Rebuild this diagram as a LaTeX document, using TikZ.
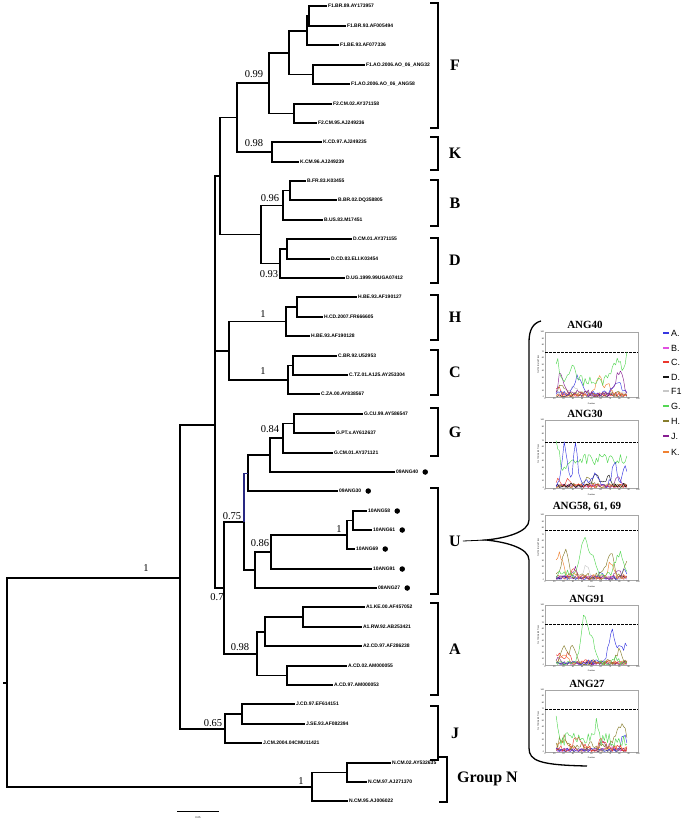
\documentclass[tikz,border=0pt]{standalone}
\usepackage{fontspec}
\setmainfont{Liberation Serif}
\setsansfont{Liberation Sans}
\usetikzlibrary{calc}
\definecolor{cA}{RGB}{55,55,225}
\definecolor{cB}{RGB}{225,80,225}
\definecolor{cC}{RGB}{235,55,45}
\definecolor{cD}{RGB}{20,20,20}
\definecolor{cF}{RGB}{200,200,200}
\definecolor{cG}{RGB}{85,215,85}
\definecolor{cH}{RGB}{135,125,45}
\definecolor{cJ}{RGB}{135,30,145}
\definecolor{cK}{RGB}{240,130,50}
\definecolor{navy}{RGB}{40,40,130}
\newcommand{\bsl}[2]{\draw[#1,line width=0.45pt,line join=round] plot[domain=12:88,samples=45] (\x,{max(0.8,min(99,#2))});}
\newcommand{\bsframe}[1]{%
  \draw[gray!70,line width=0.35pt] (0,0) rectangle (100,100);
  \foreach \v in {0,10,...,100}{
    \node[tick,anchor=east] (ty\v) at (-0.5,\v) {\v};
    \node[tick,anchor=north] (tx\v) at (\v,-1) {\v};}
  \node[tick,anchor=north] (pos) at (50,-8) {Position};
  \node[tick,rotate=90,anchor=south] (ylab) at (-6,50) {\% of Permuted Trees};
  \draw[line width=0.9pt,dash pattern=on 2.5pt off 1.5pt] (0,#1) -- (100,#1);
}
\begin{document}
\begin{tikzpicture}[x=1pt,y=-1pt,
  declare function={gg(\xa,\xm,\xs)=exp(max(-10,0-(((\xa-\xm)/\xs)^2)));},
  tree/.style={draw=black,line width=1.1pt},
  leaf/.style={anchor=west,inner sep=0.8pt,font=\sffamily\bfseries\fontsize{5}{5}\selectfont},
  boot/.style={inner sep=0pt,font=\fontsize{10.5}{11}\selectfont},
  clade/.style={inner sep=0pt,font=\bfseries\fontsize{16}{16}\selectfont},
  brk/.style={draw=black,line width=1.1pt},
  dot/.style={circle,fill=black,inner sep=0pt,minimum size=5.5pt},
  tick/.style={inner sep=0.3pt,font=\sffamily\fontsize{2}{2}\selectfont},
  ptitle/.style={inner sep=0pt,font=\bfseries\fontsize{11}{11}\selectfont},
  legtxt/.style={anchor=west,inner sep=0pt,font=\sffamily\fontsize{9}{9}\selectfont}]
\pgfmathsetseed{4242}
\useasboundingbox (0,0) rectangle (689,823);

% ---------- leaves ----------
\foreach \i/\xx/\yy in {0/327/6,1/346/26,2/339/45,3/365/65,4/350/84,5/332/104,6/317/123,
  7/322/142,8/299/162,9/306/181,10/337/200,11/323/220,12/352/239,13/330/259,14/345/278,
  15/357/297,16/323/317,17/310/336,18/337/356,19/348/375,20/320/394,21/363/414,22/335/433,
  23/333/453,24/395/472,25/338/491,26/367/511,27/372/530,28/355/549,29/372/569,30/377/588,
  31/365/607,32/362/627,33/362/646,34/347/666,35/333/685,36/295/704,37/305/724,38/262/743,
  39/391/763,40/367/782,41/348/801}
  \coordinate (l\i) at (\xx,\yy);

% ---------- internal nodes ----------
\coordinate (nF1a) at (309,16);
\coordinate (nF1b) at (307,31);
\coordinate (nANG) at (313,74.5);
\coordinate (nF1) at (289,53);
\coordinate (nF2) at (294,113.5);
\coordinate (nF) at (269,83);
\coordinate (nK) at (272,152);
\coordinate (nFK) at (237,117.5);
\coordinate (nB1) at (290,190.5);
\coordinate (nB) at (283,205.5);
\coordinate (nD1) at (287,249);
\coordinate (nD) at (280,263.5);
\coordinate (nBD) at (261,234.5);
\coordinate (nFKBD) at (220,176);
\coordinate (nH1) at (297,307);
\coordinate (nH) at (286,321.5);
\coordinate (nC1) at (293,365.5);
\coordinate (nC) at (288,380);
\coordinate (nHC) at (229,351);
\coordinate (nG1) at (294,423.5);
\coordinate (nG) at (283,438);
\coordinate (nG40) at (270,455);
\coordinate (nG30) at (248,473.5);
\coordinate (nANGa) at (353,520.5);
\coordinate (nANGb) at (347,535);
\coordinate (nANGc) at (271,552);
\coordinate (nU) at (255,570);
\coordinate (nGU) at (244,522);
\coordinate (nA1) at (303,617);
\coordinate (nA12) at (265,632);
\coordinate (nA0) at (287,675.5);
\coordinate (nA) at (257,654);
\coordinate (nGUA) at (224,588);
\coordinate (nTop) at (215,425);
\coordinate (nJ1) at (242,714);
\coordinate (nJ) at (225,729);
\coordinate (nM) at (180,578);
\coordinate (nN1) at (347,772.5);
\coordinate (nN) at (312,787);
\coordinate (root) at (7,683);
\coordinate (rootstem) at (3,683);

\foreach \p/\c in {nF1a/l0,nF1a/l1,nF1b/nF1a,nF1b/l2,nANG/l3,nANG/l4,nF1/nF1b,nF1/nANG,
  nF2/l5,nF2/l6,nF/nF1,nF/nF2,nK/l7,nK/l8,nFK/nF,nFK/nK,nB1/l9,nB1/l10,nB/nB1,nB/l11,
  nD1/l12,nD1/l13,nD/nD1,nD/l14,nBD/nB,nBD/nD,nFKBD/nFK,nFKBD/nBD,nH1/l15,nH1/l16,
  nH/nH1,nH/l17,nC1/l18,nC1/l19,nC/nC1,nC/l20,nHC/nH,nHC/nC,nG1/l21,nG1/l22,nG/nG1,
  nG/l23,nG40/nG,nG40/l24,nG30/nG40,nG30/l25,nANGa/l26,nANGa/l27,nANGb/nANGa,nANGb/l28,
  nANGc/nANGb,nANGc/l29,nU/nANGc,nU/l30,nGU/nU,nA1/l31,nA1/l32,nA12/nA1,nA12/l33,
  nA0/l34,nA0/l35,nA/nA12,nA/nA0,nGUA/nGU,nGUA/nA,nTop/nFKBD,nTop/nHC,nTop/nGUA,
  nJ1/l36,nJ1/l37,nJ/nJ1,nJ/l38,nM/nTop,nM/nJ,nN1/l39,nN1/l40,nN/nN1,nN/l41,root/nM,root/nN}
  \draw[tree] (\p) |- (\c);
\draw[tree,draw=navy] (nGU) |- (nG30);
\draw[tree] (rootstem) -- (root);

% ---------- leaf labels ----------
\foreach \i/\t in {0/F1.BR.89.AY173957,1/F1.BR.93.AF005494,2/F1.BE.93.AF077336,
  3/F1.AO.2006.AO\_06\_ANG32,4/F1.AO.2006.AO\_06\_ANG58,5/F2.CM.02.AY371158,6/F2.CM.95.AJ249236,
  7/K.CD.97.AJ249235,8/K.CM.96.AJ249239,9/B.FR.83.K03455,10/B.BR.02.DQ358805,11/B.US.83.M17451,
  12/D.CM.01.AY371155,13/D.CD.83.ELI.K03454,14/D.UG.1999.99UGA07412,15/H.BE.93.AF190127,
  16/H.CD.2007.FR666605,17/H.BE.93.AF190128,18/C.BR.92.U52953,19/C.TZ.01.A125.AY253304,
  20/C.ZA.00.AY838567,21/G.CU.99.AY586547,22/G.PT.x.AY612637,23/G.CM.01.AY371121,
  24/09ANG40,25/09ANG30,26/10ANG58,27/10ANG61,28/10ANG69,29/10ANG91,30/08ANG27,
  31/A1.KE.00.AF457052,32/A1.RW.92.AB253421,33/A2.CD.97.AF286238,34/A.CD.02.AM000055,
  35/A.CD.97.AM000053,36/J.CD.97.EF614151,37/J.SE.93.AF082394,38/J.CM.2004.04CMU11421,
  39/N.CM.02.AY532635,40/N.CM.97.AJ271370,41/N.CM.95.AJ006022}
  \node[leaf] (t\i) at (l\i) {\t};

\foreach \n in {24,25,...,30}
  \node[dot] (d\n) at ($(t\n.east)+(6,0)$) {};

% ---------- support values ----------
\node[boot] (bF) at (254,74) {0.99};
\node[boot] (bK) at (254,143) {0.98};
\node[boot] (bB) at (270,198) {0.96};
\node[boot] (bD) at (269,274) {0.93};
\node[boot] (bH) at (263,314) {1};
\node[boot] (bC) at (263,371) {1};
\node[boot] (bG) at (270,429) {0.84};
\node[boot] (bGU) at (232,516) {0.75};
\node[boot] (bAN) at (339,529) {1};
\node[boot] (bU) at (260,543) {0.86};
\node[boot] (bGUA) at (217,597) {0.7};
\node[boot] (bA) at (240,647) {0.98};
\node[boot] (bJ) at (213,723) {0.65};
\node[boot] (bM) at (146,568) {1};
\node[boot] (bN) at (301,781) {1};

% ---------- scale bar ----------
\coordinate (sb1) at (177,811);
\coordinate (sb2) at (219,811);
\draw[line width=0.8pt] (sb1) -- (sb2);
\node[tick,font=\sffamily\fontsize{2.6}{3}\selectfont] (sbt) at (198,818) {0.05};

% ---------- clade brackets ----------
\foreach \nm/\ya/\yb in {F/3/128,K/137/170,B/180/226,D/238/283,H/295/340,C/350/395,G/408/456,U/488/594,A/603/695,J/706/760}{
  \coordinate (bt\nm) at (430,\ya);
  \coordinate (bb\nm) at (430,\yb);
  \draw[brk] (bt\nm) -- +(8,0) |- (bb\nm);
  \node[clade] (c\nm) at (455,{(\ya+\yb)/2}) {\nm};
}
\coordinate (btN) at (439,757);
\coordinate (bbN) at (439,802);
\draw[brk] (btN) -- +(8,0) |- (bbN);
\node[clade,anchor=west] (cN) at (457,779) {Group N};

% ---------- brace ----------
\coordinate (btip) at (486,540);
\coordinate (brtop) at (541,321);
\coordinate (brbot) at (587,766);
\draw[line width=0.8pt] (cU.east) ++(2,0) -- (btip);
\draw[line width=1.3pt] (brtop) .. controls (533,323) and (529,330) .. (529,342)
  -- (529,520) .. controls (529,532) and (506,538) .. (btip)
  .. controls (506,542) and (529,548) .. (529,560)
  -- (529,748) .. controls (529,761) and (540,765) .. (brbot);

% ---------- legend ----------
\foreach \k/\c/\yy/\lab in {1/cA/333/A.,2/cB/348/B.,3/cC/362/C.,4/cD/377/D.,5/cF/391/F1,6/cG/406/G.,7/cH/421/H.,8/cJ/436/J.,9/cK/452/K.}{
  \draw[\c,line width=2pt] (663,\yy) -- (669,\yy);
  \node[legtxt] (lg\k) at (671,\yy) {\lab};
}

% ---------- bootscan plots ----------
\node[ptitle] (T1) at (585,325) {ANG40};
\begin{scope}[shift={(545pt,-397pt)},x=0.93pt,y=0.65pt]
  \bsframe{69}
  \bsl{cB}{3+3*rand}
  \bsl{cD}{2+3*rand}
  \bsl{cF}{5+10*gg(\x,30,5)+4*rand}
  \bsl{cC}{4+10*gg(\x,14,3)+4*rand}
  \bsl{cH}{5+15*gg(\x,18,4)+4*rand}
  \bsl{cK}{3+28*gg(\x,58,5)+18*gg(\x,68,4)+5*rand}
  \bsl{cA}{5+25*gg(\x,35,6)+18*gg(\x,78,6)+5*rand}
  \bsl{cJ}{5+30*gg(\x,16,3)+12*gg(\x,22,4)+35*gg(\x,80,5)+6*rand}
  \bsl{cG}{24+32*gg(\x,13,3)+22*gg(\x,30,5)+32*gg(\x,77,7)+40*gg(\x,88,3)+8*rand}
\end{scope}

\node[ptitle] (T2) at (585,414) {ANG30};
\begin{scope}[shift={(545pt,-488pt)},x=0.93pt,y=0.68pt]
  \bsframe{67.6}
  \bsl{cB}{3+3*rand}
  \bsl{cF}{3+3*rand}
  \bsl{cK}{3+4*rand}
  \bsl{cJ}{3+12*gg(\x,78,4)+3*rand}
  \bsl{cH}{3+10*gg(\x,45,6)+4*rand}
  \bsl{cC}{3+10*gg(\x,14,2)+12*gg(\x,25,3)+3*rand}
  \bsl{cD}{3+15*gg(\x,55,5)+15*gg(\x,68,4)+4*rand}
  \bsl{cG}{42+30*gg(\x,12,3)-15*gg(\x,21,4)+8*rand}
  \bsl{cA}{5+60*gg(\x,21,4)+62*gg(\x,33,3)+15*gg(\x,52,5)+30*gg(\x,75,4)+30*gg(\x,86,3)+6*rand}
\end{scope}

\node[ptitle] (T3) at (587,507) {ANG58, 61, 69};
\begin{scope}[shift={(545pt,-580pt)},x=0.93pt,y=0.65pt]
  \bsframe{77}
  \bsl{cB}{3+3*rand}
  \bsl{cD}{3+3*rand}
  \bsl{cC}{4+10*gg(\x,30,5)+4*rand}
  \bsl{cF}{3+20*gg(\x,45,4)+4*rand}
  \bsl{cA}{3+10*gg(\x,60,3)+12*gg(\x,85,3)+4*rand}
  \bsl{cJ}{3+15*gg(\x,32,3)+15*gg(\x,78,4)+4*rand}
  \bsl{cK}{5+35*gg(\x,15,5)+20*gg(\x,70,4)+6*rand}
  \bsl{cH}{5+40*gg(\x,22,5)+35*gg(\x,70,6)+25*gg(\x,87,3)+6*rand}
  \bsl{cG}{10+55*gg(\x,42,5)+25*gg(\x,50,5)+30*gg(\x,80,6)+6*rand}
\end{scope}

\node[ptitle] (T4) at (587,599) {ANG91};
\begin{scope}[shift={(545pt,-665pt)},x=0.93pt,y=0.60pt]
  \bsframe{68}
  \bsl{cB}{3+3*rand}
  \bsl{cD}{3+3*rand}
  \bsl{cF}{3+3*rand}
  \bsl{cJ}{3+10*gg(\x,15,3)+3*rand}
  \bsl{cK}{4+15*gg(\x,20,5)+4*rand}
  \bsl{cC}{5+15*gg(\x,15,4)+15*gg(\x,25,3)+4*rand}
  \bsl{cH}{5+25*gg(\x,20,4)+30*gg(\x,30,4)+20*gg(\x,80,4)+5*rand}
  \bsl{cA}{3+55*gg(\x,72,5)+30*gg(\x,82,4)+25*gg(\x,87,2)+6*rand}
  \bsl{cG}{3+75*gg(\x,42,5)+40*gg(\x,50,5)+8*gg(\x,75,5)+5*rand}
\end{scope}

\node[ptitle] (T5) at (587,684) {ANG27};
\begin{scope}[shift={(545pt,-752pt)},x=0.93pt,y=0.62pt]
  \bsframe{69}
  \bsl{cD}{3+3*rand}
  \bsl{cF}{3+3*rand}
  \bsl{cB}{3+8*gg(\x,70,5)+3*rand}
  \bsl{cJ}{3+15*gg(\x,62,3)+4*rand}
  \bsl{cK}{5+15*gg(\x,20,6)+5*rand}
  \bsl{cA}{3+25*gg(\x,85,4)+4*rand}
  \bsl{cC}{5+20*gg(\x,35,6)+15*gg(\x,62,5)+6*rand}
  \bsl{cH}{10+15*gg(\x,20,5)+35*gg(\x,80,5)+25*gg(\x,86,3)+8*rand}
  \bsl{cG}{20+40*gg(\x,12,2)+25*gg(\x,55,3)+12*rand}
\end{scope}
\end{tikzpicture}
\end{document}
